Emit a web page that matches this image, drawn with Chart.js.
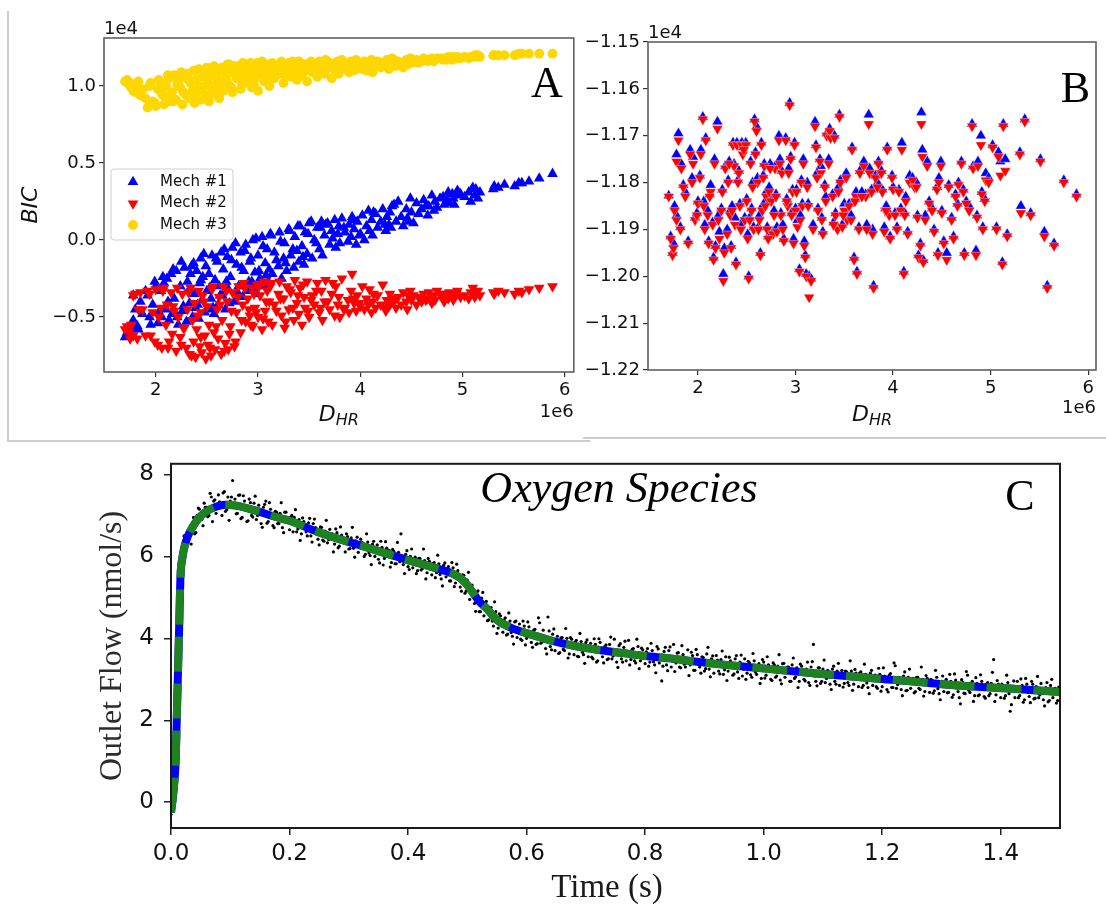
<!DOCTYPE html>
<html>
<head>
<meta charset="utf-8">
<title>BIC comparison and oxygen outlet flow</title>
<script src="https://cdn.jsdelivr.net/npm/chart.js@4.4.0/dist/chart.umd.min.js"></script>
<style>
  body { margin: 0; background: #fff; width: 1106px; height: 904px; position: relative; overflow: hidden; }
  canvas { position: absolute; }
  .edge { position: absolute; background: #cdcdcd; }
</style>
</head>
<body>
<div class="edge" style="left:7px;top:11px;width:1.5px;height:430px"></div>
<div class="edge" style="left:7px;top:440px;width:583px;height:1.5px"></div>
<div class="edge" style="left:583px;top:437px;width:523px;height:1.5px"></div>
<canvas id="chartA" width="580" height="440" style="left:0;top:0"></canvas>
<canvas id="chartB" width="526" height="440" style="left:580px;top:0"></canvas>
<canvas id="chartC" width="1106" height="464" style="left:0;top:440px"></canvas>
<script>
// D_HR of every sample (units of 1e6), shared by panels A and B
const dhr = [
  1.70,1.72,1.74,1.75,1.76,1.78,1.80,1.82,1.85,1.87,
  1.92,1.95,1.97,2.00,2.02,2.05,2.06,2.08,2.10,2.11,
  2.13,2.15,2.16,2.18,2.20,2.22,2.24,2.26,2.28,2.30,
  2.31,2.33,2.34,2.36,2.37,2.38,2.39,2.40,2.42,2.43,
  2.44,2.45,2.46,2.48,2.49,2.50,2.51,2.52,2.54,2.55,
  2.57,2.58,2.60,2.61,2.62,2.64,2.65,2.66,2.68,2.70,
  2.71,2.73,2.75,2.77,2.79,2.81,2.83,2.85,2.86,2.88,
  2.90,2.92,2.94,2.95,2.97,2.99,3.00,3.02,3.04,3.06,
  3.07,3.09,3.10,3.11,3.12,3.14,3.16,3.20,3.21,3.23,
  3.25,3.26,3.28,3.30,3.32,3.35,3.36,3.38,3.40,3.41,
  3.43,3.45,3.46,3.48,3.50,3.53,3.55,3.58,3.60,3.62,
  3.63,3.65,3.66,3.70,3.72,3.75,3.76,3.78,3.79,3.80,
  3.82,3.85,3.88,3.89,3.91,3.92,3.94,3.96,3.97,4.00,
  4.02,4.04,4.06,4.08,4.09,4.11,4.12,4.15,4.17,4.20,
  4.22,4.25,4.26,4.28,4.29,4.30,4.31,4.35,4.37,4.40,
  4.42,4.45,4.46,4.49,4.50,4.52,4.55,4.57,4.60,4.62,
  4.66,4.67,4.70,4.72,4.73,4.75,4.81,4.82,4.85,4.86,
  4.87,4.90,4.91,4.92,4.94,4.95,5.02,5.06,5.08,5.10,
  5.12,5.13,5.15,5.17,5.30,5.31,5.35,5.41,5.51,5.55,
  5.58,5.65,5.75,5.88,
  1.78,1.83,1.90,1.94,1.99,2.03,2.07,2.12,2.17,2.21,
  2.25,2.27,2.32,2.35,2.41,2.44,2.47,2.53,2.56,2.59,
  2.63,2.67,2.69,2.72,2.74,2.78,2.80,2.84,2.87,2.91,
  2.93,2.96,2.98,3.01,3.05,3.08,3.13,3.18,3.22,3.27,
  3.31,3.34,3.39,3.44,3.49,3.52,3.57,3.61,3.68,3.73,
  3.84,3.93,3.99,4.13,4.24,4.33,4.47,4.64,4.78,4.98
];

// panel A: BIC per mechanism (units of 1e4)
const bicMech1 = [
  -0.63,-0.60,-0.61,-0.57,-0.58,-0.52,-0.45,-0.56,-0.40,-0.48,
  -0.36,-0.55,-0.42,-0.30,-0.54,-0.33,-0.50,-0.28,-0.45,-0.25,
  -0.52,-0.22,-0.48,-0.38,-0.20,-0.55,-0.30,-0.46,-0.18,-0.53,
  -0.27,-0.41,-0.22,-0.50,-0.15,-0.35,-0.44,-0.20,-0.51,-0.28,
  -0.12,-0.39,-0.24,-0.47,-0.17,-0.33,-0.45,-0.22,-0.38,-0.10,
  -0.48,-0.26,-0.14,-0.42,-0.30,-0.08,-0.36,-0.19,-0.45,-0.11,
  -0.32,-0.24,-0.05,-0.40,-0.16,-0.30,-0.08,-0.37,-0.20,-0.03,
  -0.33,-0.14,-0.27,0.00,-0.21,-0.35,-0.10,-0.25,0.02,-0.30,
  -0.15,-0.06,-0.27,-0.19,0.04,-0.22,-0.08,-0.17,0.05,-0.25,
  -0.12,-0.02,-0.20,0.07,-0.10,-0.18,0.02,-0.07,-0.14,0.09,
  -0.04,-0.16,0.05,-0.09,0.11,-0.12,0.00,0.08,-0.06,0.12,
  -0.10,0.03,0.10,-0.03,0.06,0.13,-0.05,0.04,0.09,-0.02,
  0.14,0.05,-0.01,0.10,0.02,0.15,0.07,-0.03,0.12,0.04,
  0.16,0.00,0.09,0.19,0.06,0.13,0.03,0.17,0.08,0.12,
  0.20,0.06,0.15,0.10,0.18,0.08,0.22,0.12,0.25,0.15,
  0.09,0.20,0.14,0.27,0.18,0.11,0.24,0.17,0.20,0.26,
  0.16,0.22,0.29,0.19,0.25,0.21,0.28,0.23,0.26,0.31,
  0.24,0.30,0.27,0.23,0.29,0.32,0.28,0.31,0.25,0.34,
  0.29,0.33,0.27,0.31,0.33,0.35,0.34,0.36,0.35,0.37,
  0.37,0.38,0.40,0.43,
  -0.36,-0.58,-0.33,-0.50,-0.27,-0.47,-0.24,-0.40,-0.19,-0.50,
  -0.14,-0.43,-0.33,-0.17,-0.42,-0.26,-0.09,-0.31,-0.44,-0.12,
  -0.36,-0.06,-0.27,-0.41,-0.13,-0.02,-0.34,-0.18,-0.07,-0.27,
  -0.12,-0.31,0.01,-0.20,-0.04,-0.23,0.03,-0.13,-0.01,-0.15,
  0.06,-0.06,0.09,-0.11,0.04,0.12,-0.02,0.08,0.11,0.01,
  0.08,0.13,0.03,0.18,0.10,0.23,0.12,0.22,0.27,0.30
];
const bicMech2 = [
  -0.58,-0.56,-0.60,-0.64,-0.55,-0.62,-0.35,-0.64,-0.34,-0.45,
  -0.33,-0.62,-0.47,-0.32,-0.68,-0.44,-0.70,-0.31,-0.55,-0.42,
  -0.66,-0.34,-0.61,-0.46,-0.72,-0.50,-0.63,-0.35,-0.57,-0.70,
  -0.45,-0.74,-0.31,-0.52,-0.66,-0.41,-0.76,-0.58,-0.33,-0.69,
  -0.47,-0.73,-0.36,-0.62,-0.77,-0.43,-0.68,-0.55,-0.75,-0.32,
  -0.60,-0.71,-0.45,-0.64,-0.37,-0.74,-0.52,-0.30,-0.67,-0.40,
  -0.71,-0.56,-0.34,-0.69,-0.47,-0.30,-0.60,-0.42,-0.28,-0.53,
  -0.38,-0.49,-0.31,-0.56,-0.44,-0.29,-0.50,-0.36,-0.58,-0.27,
  -0.46,-0.33,-0.53,-0.40,-0.30,-0.55,-0.42,-0.35,-0.27,-0.49,
  -0.38,-0.57,-0.30,-0.45,-0.34,-0.52,-0.26,-0.41,-0.48,-0.31,
  -0.55,-0.37,-0.44,-0.27,-0.50,-0.36,-0.42,-0.28,-0.47,-0.33,
  -0.52,-0.40,-0.26,-0.45,-0.35,-0.49,-0.30,-0.42,-0.37,-0.50,
  -0.25,-0.44,-0.39,-0.47,-0.33,-0.22,-0.41,-0.46,-0.36,-0.43,
  -0.30,-0.45,-0.38,-0.42,-0.32,-0.47,-0.40,-0.44,-0.36,-0.42,
  -0.29,-0.46,-0.39,-0.43,-0.35,-0.41,-0.38,-0.44,-0.37,-0.42,
  -0.34,-0.40,-0.45,-0.33,-0.39,-0.36,-0.42,-0.37,-0.40,-0.35,
  -0.38,-0.34,-0.41,-0.36,-0.39,-0.33,-0.37,-0.40,-0.35,-0.38,
  -0.34,-0.36,-0.39,-0.37,-0.35,-0.33,-0.36,-0.38,-0.34,-0.31,
  -0.37,-0.35,-0.33,-0.36,-0.34,-0.35,-0.33,-0.34,-0.35,-0.33,
  -0.34,-0.32,-0.31,-0.30,
  -0.36,-0.45,-0.62,-0.35,-0.66,-0.50,-0.33,-0.70,-0.43,-0.31,
  -0.68,-0.57,-0.34,-0.75,-0.49,-0.63,-0.40,-0.70,-0.30,-0.56,
  -0.42,-0.72,-0.33,-0.61,-0.46,-0.66,-0.37,-0.52,-0.31,-0.45,
  -0.55,-0.35,-0.47,-0.30,-0.51,-0.40,-0.28,-0.46,-0.38,-0.53,
  -0.32,-0.44,-0.36,-0.29,-0.46,-0.39,-0.33,-0.44,-0.40,-0.28,
  -0.45,-0.38,-0.41,-0.35,-0.44,-0.40,-0.36,-0.39,-0.35,-0.37
];
const bicMech3 = [
  1.03,1.04,1.01,1.02,0.99,1.00,0.96,1.01,0.94,0.98,
  0.86,1.02,0.90,0.87,0.98,1.02,0.95,0.88,1.00,0.93,
  1.05,0.90,0.96,1.07,0.91,1.03,0.99,0.88,1.06,0.94,
  1.08,0.92,1.02,0.97,1.10,0.89,1.04,0.95,1.11,1.00,
  0.91,1.06,0.98,1.09,0.93,1.12,1.02,0.90,1.07,0.99,
  1.13,0.95,1.05,1.10,0.92,1.02,1.12,0.97,1.08,1.14,
  1.01,1.09,0.96,1.13,1.05,1.10,0.98,1.15,1.07,1.02,
  1.14,1.09,0.99,1.12,1.05,1.15,0.97,1.10,1.16,1.03,
  1.12,1.07,1.14,1.00,1.10,1.15,1.05,1.13,1.08,1.16,
  1.02,1.12,1.09,1.15,1.06,1.13,1.10,1.04,1.16,1.12,
  1.07,1.14,1.10,1.03,1.15,1.09,1.13,1.06,1.16,1.11,
  1.14,1.08,1.17,1.12,1.05,1.15,1.10,1.16,1.08,1.13,
  1.17,1.11,1.15,1.09,1.16,1.13,1.10,1.17,1.12,1.14,
  1.11,1.16,1.10,1.15,1.12,1.17,1.09,1.14,1.16,1.12,
  1.15,1.13,1.17,1.11,1.16,1.14,1.18,1.13,1.16,1.15,
  1.12,1.17,1.14,1.18,1.15,1.16,1.17,1.15,1.16,1.18,
  1.16,1.17,1.18,1.16,1.17,1.18,1.17,1.18,1.17,1.19,
  1.18,1.17,1.19,1.18,1.18,1.19,1.19,1.18,1.19,1.19,
  1.20,1.19,1.20,1.19,1.20,1.20,1.20,1.20,1.20,1.21,
  1.21,1.21,1.21,1.21,
  0.97,1.03,0.92,1.00,0.89,1.04,0.94,1.07,0.90,1.01,
  1.09,0.96,1.04,0.92,1.10,0.99,1.06,0.94,1.12,1.01,
  0.96,1.10,1.04,1.14,0.99,1.08,1.13,1.02,1.11,1.06,
  1.15,1.01,1.13,1.08,1.15,1.04,1.12,1.09,1.15,1.07,
  1.13,1.16,1.09,1.14,1.11,1.16,1.10,1.13,1.16,1.12,
  1.14,1.16,1.12,1.16,1.15,1.17,1.16,1.17,1.18,1.18
];

// panel B: BIC for mechanisms 1 and 2 (units of 1e4)
const bicB1 = [
  -1.1828,-1.1915,-1.1950,-1.1930,-1.1850,-1.1740,-1.1695,-1.1895,-1.1805,-1.1820,
  -1.1730,-1.1745,-1.1875,-1.1840,-1.1785,-1.1660,-1.1840,-1.1705,-1.1860,-1.1925,
  -1.1805,-1.1885,-1.1960,-1.1935,-1.1670,-1.1905,-1.1855,-1.1995,-1.1765,-1.1900,
  -1.1795,-1.1860,-1.1935,-1.1715,-1.1760,-1.1875,-1.1970,-1.1715,-1.1775,-1.1845,
  -1.1890,-1.1715,-1.1725,-1.1875,-1.1715,-1.1835,-1.1910,-1.2000,-1.1755,-1.1855,
  -1.1895,-1.1665,-1.1680,-1.1790,-1.1895,-1.1950,-1.1715,-1.1850,-1.1760,-1.1820,
  -1.1895,-1.1810,-1.1835,-1.1905,-1.1765,-1.1895,-1.1700,-1.1865,-1.1775,-1.1920,
  -1.1705,-1.1840,-1.1630,-1.1745,-1.1815,-1.1715,-1.1855,-1.1880,-1.1985,-1.1795,
  -1.1845,-1.1925,-1.1955,-1.1995,-1.1800,-1.2000,-1.2005,-1.1670,-1.1720,-1.1855,
  -1.1750,-1.1765,-1.1905,-1.1805,-1.1695,-1.1685,-1.1700,-1.1825,-1.1700,-1.1865,
  -1.1895,-1.1655,-1.1795,-1.1890,-1.1845,-1.1870,-1.1845,-1.1725,-1.1960,-1.1820,
  -1.1990,-1.1895,-1.1775,-1.1755,-1.1825,-1.1655,-1.1770,-1.1815,-1.1900,-1.2020,
  -1.1785,-1.1755,-1.1775,-1.1815,-1.1895,-1.1855,-1.1725,-1.1865,-1.1915,-1.1810,
  -1.1865,-1.1895,-1.1815,-1.1855,-1.1715,-1.1990,-1.1865,-1.1905,-1.1785,-1.1790,
  -1.1805,-1.1870,-1.1955,-1.1930,-1.1650,-1.1730,-1.1965,-1.1755,-1.1840,-1.1855,
  -1.1900,-1.1810,-1.1950,-1.1755,-1.1860,-1.1925,-1.1950,-1.1805,-1.1875,-1.1915,
  -1.1845,-1.1800,-1.1755,-1.1815,-1.1950,-1.1840,-1.1675,-1.1765,-1.1945,-1.1870,
  -1.1755,-1.1700,-1.1820,-1.1895,-1.1835,-1.1780,-1.1720,-1.1895,-1.1735,-1.1755,
  -1.1970,-1.1675,-1.1750,-1.1910,-1.1735,-1.1850,-1.1665,-1.1865,-1.1750,-1.1905,
  -1.2020,-1.1930,-1.1795,-1.1825,
  -1.1870,-1.1760,-1.1925,-1.1790,-1.1865,-1.1730,-1.1890,-1.1825,-1.1750,-1.1870,
  -1.1815,-1.1940,-1.1755,-1.1850,-1.1795,-1.1890,-1.1720,-1.1875,-1.1800,-1.1735,
  -1.1870,-1.1785,-1.1840,-1.1915,-1.1760,-1.1860,-1.1825,-1.1750,-1.1890,-1.1835,
  -1.1770,-1.1865,-1.1920,-1.1815,-1.1870,-1.1750,-1.1845,-1.1890,-1.1780,-1.1875,
  -1.1830,-1.1750,-1.1885,-1.1810,-1.1865,-1.1780,-1.1870,-1.1835,-1.1820,-1.1890,
  -1.1800,-1.1850,-1.1785,-1.1830,-1.1800,-1.1870,-1.1790,-1.1825,-1.1850,-1.1790
];
const bicB2 = [
  -1.1830,-1.1920,-1.1955,-1.1940,-1.1860,-1.1755,-1.1710,-1.1900,-1.1810,-1.1830,
  -1.1740,-1.1760,-1.1880,-1.1845,-1.1790,-1.1665,-1.1850,-1.1710,-1.1870,-1.1930,
  -1.1820,-1.1890,-1.1965,-1.1940,-1.1685,-1.1920,-1.1860,-1.2010,-1.1770,-1.1910,
  -1.1800,-1.1870,-1.1940,-1.1720,-1.1765,-1.1890,-1.1975,-1.1720,-1.1780,-1.1850,
  -1.1900,-1.1720,-1.1740,-1.1880,-1.1720,-1.1840,-1.1920,-1.2005,-1.1760,-1.1860,
  -1.1900,-1.1670,-1.1690,-1.1800,-1.1900,-1.1955,-1.1720,-1.1860,-1.1765,-1.1830,
  -1.1900,-1.1820,-1.1840,-1.1910,-1.1770,-1.1905,-1.1710,-1.1870,-1.1780,-1.1925,
  -1.1710,-1.1850,-1.1635,-1.1750,-1.1820,-1.1720,-1.1860,-1.1895,-1.1990,-1.1800,
  -1.1850,-1.1935,-1.1960,-1.2000,-1.1810,-1.2045,-1.2010,-1.1680,-1.1725,-1.1860,
  -1.1755,-1.1780,-1.1910,-1.1810,-1.1700,-1.1690,-1.1705,-1.1830,-1.1705,-1.1870,
  -1.1900,-1.1660,-1.1800,-1.1895,-1.1860,-1.1880,-1.1850,-1.1730,-1.1965,-1.1830,
  -1.1995,-1.1900,-1.1780,-1.1765,-1.1830,-1.1675,-1.1780,-1.1820,-1.1910,-1.2025,
  -1.1790,-1.1760,-1.1780,-1.1820,-1.1905,-1.1860,-1.1730,-1.1870,-1.1920,-1.1815,
  -1.1870,-1.1900,-1.1820,-1.1860,-1.1730,-1.1995,-1.1870,-1.1910,-1.1800,-1.1795,
  -1.1810,-1.1875,-1.1960,-1.1935,-1.1675,-1.1745,-1.1970,-1.1765,-1.1845,-1.1860,
  -1.1905,-1.1815,-1.1955,-1.1765,-1.1865,-1.1930,-1.1965,-1.1810,-1.1880,-1.1920,
  -1.1850,-1.1805,-1.1760,-1.1820,-1.1955,-1.1845,-1.1680,-1.1770,-1.1955,-1.1875,
  -1.1765,-1.1720,-1.1825,-1.1900,-1.1840,-1.1795,-1.1725,-1.1900,-1.1745,-1.1785,
  -1.1975,-1.1680,-1.1775,-1.1915,-1.1740,-1.1865,-1.1670,-1.1870,-1.1755,-1.1915,
  -1.2025,-1.1935,-1.1800,-1.1830,
  -1.1880,-1.1770,-1.1930,-1.1800,-1.1870,-1.1740,-1.1900,-1.1830,-1.1760,-1.1880,
  -1.1820,-1.1950,-1.1760,-1.1860,-1.1800,-1.1900,-1.1730,-1.1880,-1.1810,-1.1740,
  -1.1880,-1.1790,-1.1850,-1.1920,-1.1770,-1.1870,-1.1830,-1.1760,-1.1900,-1.1840,
  -1.1780,-1.1870,-1.1930,-1.1820,-1.1880,-1.1760,-1.1850,-1.1900,-1.1790,-1.1880,
  -1.1840,-1.1760,-1.1890,-1.1820,-1.1870,-1.1790,-1.1880,-1.1840,-1.1830,-1.1900,
  -1.1810,-1.1860,-1.1790,-1.1840,-1.1810,-1.1880,-1.1800,-1.1830,-1.1860,-1.1800
];

const xTicksAB = [2, 3, 4, 5, 6];
const yTicksA = [-0.5, 0.0, 0.5, 1.0];
const yTicksB = [-1.22, -1.21, -1.20, -1.19, -1.18, -1.17, -1.16, -1.15];

// panel C: measured oxygen outlet flow (time in ms, flow in nmol/s)
const o2TimeMs = [
  0,4,8,12,16,20,24,28,32,36, 40,44,48,52,56,60,64,68,72,76,
  80,84,88,92,96,100,104,108,112,116, 120,124,128,132,136,140,144,148,152,156,
  160,164,168,172,176,180,184,188,192,196, 200,204,208,212,216,220,224,228,232,236,
  240,244,248,252,256,260,264,268,272,276, 280,284,288,292,296,300,304,308,312,316,
  320,324,328,332,336,340,344,348,352,356, 360,364,368,372,376,380,384,388,392,396,
  400,404,408,412,416,420,424,428,432,436, 440,444,448,452,456,460,464,468,472,476,
  480,484,488,492,496,500,504,508,512,516, 520,524,528,532,536,540,544,548,552,556,
  560,564,568,572,576,580,584,588,592,596, 600,604,608,612,616,620,624,628,632,636,
  640,644,648,652,656,660,664,668,672,676, 680,684,688,692,696,700,704,708,712,716,
  720,724,728,732,736,740,744,748,752,756, 760,764,768,772,776,780,784,788,792,796,
  800,804,808,812,816,820,824,828,832,836, 840,844,848,852,856,860,864,868,872,876,
  880,884,888,892,896,900,904,908,912,916, 920,924,928,932,936,940,944,948,952,956,
  960,964,968,972,976,980,984,988,992,996, 1000,1004,1008,1012,1016,1020,1024,1028,1032,1036,
  1040,1044,1048,1052,1056,1060,1064,1068,1072,1076, 1080,1084,1088,1092,1096,1100,1104,1108,1112,1116,
  1120,1124,1128,1132,1136,1140,1144,1148,1152,1156, 1160,1164,1168,1172,1176,1180,1184,1188,1192,1196,
  1200,1204,1208,1212,1216,1220,1224,1228,1232,1236, 1240,1244,1248,1252,1256,1260,1264,1268,1272,1276,
  1280,1284,1288,1292,1296,1300,1304,1308,1312,1316, 1320,1324,1328,1332,1336,1340,1344,1348,1352,1356,
  1360,1364,1368,1372,1376,1380,1384,1388,1392,1396, 1400,1404,1408,1412,1416,1420,1424,1428,1432,1436,
  1440,1444,1448,1452,1456,1460,1464,1468,1472,1476, 1480,1484,1488,1492,1496,1500,
  2,6,10,14,18,22,26,30,34,38, 42,46,50,54,58,62,66,70,74,78,
  82,86,90,94,98,102,106,110,114,118, 122,126,130,134,138,142,146,150,154,158,
  162,166,170,174,178,182,186,190,194,198, 202,206,210,214,218,222,226,230,234,238,
  242,246,250,254,258,262,266,270,274,278, 282,286,290,294,298,302,306,310,314,318,
  322,326,330,334,338,342,346,350,354,358, 362,366,370,374,378,382,386,390,394,398,
  402,406,410,414,418,422,426,430,434,438, 442,446,450,454,458,462,466,470,474,478,
  482,486,490,494,498,502,506,510,514,518, 522,526,530,534,538,542,546,550,554,558,
  562,566,570,574,578,582,586,590,594,598, 602,606,610,614,618,622,626,630,634,638,
  642,646,650,654,658,662,666,670,674,678, 682,686,690,694,698,702,706,710,714,718,
  722,726,730,734,738,742,746,750,754,758, 762,766,770,774,778,782,786,790,794,798,
  802,806,810,814,818,822,826,830,834,838, 842,846,850,854,858,862,866,870,874,878,
  882,886,890,894,898,902,906,910,914,918, 922,926,930,934,938,942,946,950,954,958,
  962,966,970,974,978,982,986,990,994,998, 1002,1006,1010,1014,1018,1022,1026,1030,1034,1038,
  1042,1046,1050,1054,1058,1062,1066,1070,1074,1078, 1082,1086,1090,1094,1098,1102,1106,1110,1114,1118,
  1122,1126,1130,1134,1138,1142,1146,1150,1154,1158, 1162,1166,1170,1174,1178,1182,1186,1190,1194,1198,
  1202,1206,1210,1214,1218,1222,1226,1230,1234,1238, 1242,1246,1250,1254,1258,1262,1266,1270,1274,1278,
  1282,1286,1290,1294,1298,1302,1306,1310,1314,1318, 1322,1326,1330,1334,1338,1342,1346,1350,1354,1358,
  1362,1366,1370,1374,1378,1382,1386,1390,1394,1398, 1402,1406,1410,1414,1418,1422,1426,1430,1434,1438,
  1442,1446,1450,1454,1458,1462,1466,1470,1474,1478, 1482,1486,1490,1494,1498
];
const o2Flow = [
  -0.3,0.1,1.2,3.1,5.5,6.15,6.05,6.5,6.6,6.75, 6.55,7.0,7.15,6.9,7.3,7.2,7.0,7.45,7.35,7.05,
  7.5,7.3,7.55,7.1,7.45,7.35,7.85,7.4,7.05,7.5, 6.95,7.35,6.85,7.4,7.0,7.3,6.9,7.25,6.8,7.2,
  7.35,6.85,7.15,6.75,7.1,6.8,7.05,6.7,7.08,6.95, 6.65,7.0,6.95,6.6,6.9,6.55,6.85,6.6,6.82,6.5,
  6.8,6.7,6.42,6.72,6.4,6.62,6.33,6.66,6.55,6.3, 6.58,6.25,6.52,6.4,6.55,6.18,6.45,6.2,6.38,6.1,
  6.42,6.3,6.05,6.35,6.02,6.3,6.0,6.28,5.84,6.22, 5.95,6.2,6.15,5.85,6.12,5.82,6.1,6.55,5.8,6.05,
  5.75,6.0,5.72,5.98,5.65,5.95,5.7,5.9,5.6,5.88, 5.55,5.85,5.6,5.82,5.45,5.78,5.5,5.75,5.4,5.72,
  5.35,5.65,5.25,5.55,5.1,5.42,4.95,5.3,4.85,5.12, 4.65,4.98,4.55,4.9,4.45,4.75,4.3,4.65,4.25,4.55,
  4.15,4.5,4.1,4.42,4.05,4.4,4.02,4.35,3.95,4.3, 4.0,4.28,3.9,4.2,3.85,4.5,3.88,4.2,3.75,4.52,
  3.8,4.1,3.7,4.05,3.65,4.02,3.7,4.0,3.62,3.98, 3.6,3.95,3.55,3.92,3.6,3.9,3.55,3.88,3.5,3.85,
  3.45,3.9,3.55,3.8,3.48,3.85,3.5,3.98,3.42,3.82, 3.5,3.78,3.45,3.95,3.48,3.75,3.4,3.8,3.45,3.72,
  3.38,3.75,3.42,3.7,3.35,3.8,3.4,2.96,3.68,3.35, 3.7,3.3,3.85,3.4,3.65,3.28,3.6,3.3,3.72,3.35,
  3.58,3.22,3.6,3.3,3.55,3.2,3.62,3.25,3.5,3.15, 3.58,3.2,3.48,3.12,3.55,3.2,3.45,3.1,3.5,3.18,
  3.42,3.08,3.5,3.15,3.4,3.05,3.45,3.12,3.38,3.02, 3.42,3.1,3.35,3.0,3.4,3.05,3.32,2.98,3.38,3.05,
  3.3,2.95,3.35,3.02,3.28,2.95,3.32,3.0,3.25,2.92, 3.3,3.85,2.95,3.28,2.9,3.25,2.92,3.22,2.88,3.25,
  2.95,3.2,2.85,3.22,2.9,3.18,2.85,3.2,2.88,3.15, 2.82,3.18,2.85,3.12,2.8,3.15,2.85,3.1,2.78,3.12,
  2.82,3.08,2.75,3.1,2.8,3.4,2.78,3.05,2.75,3.08, 2.72,3.05,2.78,3.02,2.7,3.05,2.75,3.0,2.7,3.02,
  2.68,2.98,2.72,3.05,2.65,2.95,2.7,3.0,2.68,2.95, 2.62,2.98,2.7,2.4,2.92,2.65,3.1,2.68,2.95,2.6,
  2.9,2.62,2.95,2.58,2.88,2.6,2.9,3.48,2.62,2.88, 2.55,2.85,2.6,2.92,2.22,2.82,2.55,2.95,2.6,2.85,
  2.5,2.88,2.58,2.95,2.52,2.82,2.55,2.9,2.5,2.8, 2.45,2.85,2.55,2.78,2.48,2.75,
  -0.15,0.5,2.0,4.6,5.7,6.5,6.25,6.6,6.3,6.95, 6.58,7.18,6.98,6.75,7.2,6.97,7.54,6.85,7.38,7.18,
  7.33,7.0,7.58,7.14,6.88,7.45,7.29,7.04,7.49,6.92, 7.48,7.13,6.87,7.31,6.96,7.47,7.0,7.13,6.71,7.27,
  6.81,7.31,7.01,6.7,7.08,6.8,7.31,6.58,7.08,6.84, 6.96,6.6,7.14,6.67,6.39,6.94,6.76,6.5,6.93,6.35,
  6.91,6.54,6.28,6.71,6.37,6.88,6.41,6.54,6.11,6.67, 6.21,6.72,6.42,6.11,6.48,6.19,6.71,5.98,6.47,6.23,
  6.35,6.0,6.55,6.08,5.8,6.37,6.19,5.93,6.37,5.79, 6.36,6.0,5.74,6.17,5.82,6.34,5.87,6.0,5.58,6.14,
  5.68,6.18,5.89,5.58,5.95,5.67,6.18,5.45,5.95,5.71, 5.83,5.48,6.03,5.56,5.28,5.84,5.66,5.4,5.85,5.26,
  5.81,5.43,5.15,5.54,5.15,5.61,5.08,5.15,4.66,5.16, 4.65,5.12,4.78,4.43,4.75,4.42,4.89,4.12,4.6,4.34,
  4.45,4.08,4.62,4.14,3.86,4.42,4.24,3.98,4.42,3.84, 4.4,4.04,3.78,4.22,3.87,4.38,3.91,4.04,3.62,4.18,
  3.72,4.23,3.94,3.63,4.01,3.73,4.24,3.52,4.02,3.78, 3.91,3.56,4.12,3.66,3.39,3.96,3.79,3.54,3.99,3.42,
  3.99,3.65,3.4,3.84,3.5,4.03,3.57,3.71,3.29,3.87, 3.42,3.93,3.64,3.35,3.73,3.45,3.98,3.26,3.76,3.53,
  3.67,3.32,3.88,3.43,3.16,3.74,3.57,3.32,3.78,3.21, 3.79,3.44,3.19,3.64,3.3,3.82,3.37,3.51,3.09,3.66,
  3.22,3.73,3.44,3.15,3.53,3.26,3.78,3.06,3.57,3.34, 3.47,3.13,3.69,3.23,2.97,3.54,3.38,3.13,3.58,3.02,
  3.59,3.25,3.0,3.44,3.11,3.63,3.18,3.32,2.9,3.48, 3.03,3.55,3.26,2.97,3.35,3.08,3.6,2.89,3.39,3.16,
  3.3,2.95,3.52,3.06,2.8,3.37,3.21,2.96,3.42,2.85, 3.43,3.08,2.84,3.28,2.95,3.47,3.02,3.16,2.75,3.32,
  2.88,3.39,3.11,2.81,3.2,2.92,3.45,2.73,3.24,3.01, 3.15,2.8,3.37,2.91,2.65,3.22,3.06,2.82,3.27,2.71,
  3.28,2.94,2.69,3.14,2.8,3.33,2.87,3.02,2.6,3.18, 2.73,3.25,2.96,2.67,3.05,2.78,3.3,2.59,3.09,2.87,
  3.0,2.66,3.22,2.77,2.5,3.08,2.91,2.67,3.12,2.56, 3.13,2.79,2.55,2.99,2.66,3.19,2.73,2.88,2.46,3.04,
  2.6,3.11,2.83,2.54,2.92,2.65,3.17,2.46,2.97,2.74, 2.88,2.54,3.1,2.65,2.38,2.96,2.8,2.55,3.01,2.44,
  3.02,2.68,2.43,2.88,2.54,3.07,2.62,2.76,2.35,2.92, 2.48,3.0,2.71,2.42,2.81
];

// fitted curve through the oxygen data
const fitTime = [0, 0.003, 0.006, 0.008, 0.010, 0.012, 0.014, 0.016, 0.019, 0.023, 0.028, 0.035, 0.045, 0.058,
  0.072, 0.092, 0.110, 0.140, 0.173, 0.200, 0.249, 0.300, 0.328, 0.350, 0.407, 0.450, 0.475, 0.490, 0.500,
  0.510, 0.520, 0.533, 0.550, 0.575, 0.604, 0.640, 0.682, 0.720, 0.762, 0.800, 0.842, 0.880, 0.923, 1.003,
  1.084, 1.164, 1.248, 1.327, 1.408, 1.500];
const fitFlow = [-0.25, 0.1, 0.55, 1.05, 2.2, 3.3, 4.4, 5.5, 5.95, 6.25, 6.48, 6.68, 6.9, 7.08,
  7.19, 7.26, 7.24, 7.13, 6.98, 6.87, 6.59, 6.35, 6.23, 6.13, 5.88, 5.7, 5.58, 5.45, 5.3,
  5.1, 4.9, 4.72, 4.45, 4.25, 4.11, 3.95, 3.81, 3.72, 3.64, 3.57, 3.51, 3.44, 3.37, 3.26,
  3.15, 3.05, 2.95, 2.85, 2.78, 2.69];

const xTicksC = [0, 0.2, 0.4, 0.6, 0.8, 1.0, 1.2, 1.4];
const yTicksC = [0, 2, 4, 6, 8];

const pts = (xs, ys) => xs.map((x, i) => ({ x, y: ys[i] }));
const minus = s => s.replace('-', '\u2212');
const SANS = '"DejaVu Sans", sans-serif';
const SERIF = '"Liberation Serif", "DejaVu Serif", serif';

// axis with fixed tick list and fixed thickness so the plot box lands where we want
function axis(o) {
  return {
    type: 'linear', min: o.min, max: o.max,
    afterBuildTicks: s => { s.ticks = o.ticks.map(v => ({ value: v })); },
    afterFit: s => { if (s.isHorizontal()) s.height = o.size; else s.width = o.size; },
    grid: { display: true, drawOnChartArea: false, drawTicks: true, tickLength: o.tickLength || 5,
            color: o.tickColor || '#333', lineWidth: o.tickWidth || 1.2 },
    border: { display: false },
    ticks: { callback: o.format, color: '#111', padding: o.padding || 3, maxRotation: 0, autoSkip: false,
             font: { family: SANS, size: o.fontSize || 18 } }
  };
}

function baseOptions(padding, x, y) {
  return {
    responsive: false, animation: false, events: [],
    layout: { padding },
    plugins: { legend: { display: false }, tooltip: { enabled: false } },
    scales: { x, y }
  };
}

function overlay(id, draw) {
  return { id, afterDraw(chart) { const ctx = chart.ctx; ctx.save(); draw(ctx, chart.chartArea, chart); ctx.restore(); } };
}

function frame(ctx, a, color, width) {
  ctx.strokeStyle = color; ctx.lineWidth = width;
  ctx.strokeRect(a.left, a.top, a.right - a.left, a.bottom - a.top);
}

function text(ctx, str, x, y, font, align, baseline, color) {
  ctx.font = font; ctx.textAlign = align || 'left'; ctx.textBaseline = baseline || 'alphabetic';
  ctx.fillStyle = color || '#111';
  ctx.fillText(str, x, y);
}

function vtext(ctx, str, x, y, font, color) {
  ctx.save(); ctx.translate(x, y); ctx.rotate(-Math.PI / 2);
  text(ctx, str, 0, 0, font, 'center', 'middle', color);
  ctx.restore();
}

// D with HR subscript
function dhrTitle(ctx, cx, base) {
  const big = 'italic 22px ' + SANS, small = 'italic 16px ' + SANS;
  ctx.font = big; const wD = ctx.measureText('D').width;
  ctx.font = small; const wS = ctx.measureText('HR').width;
  const x0 = cx - (wD + wS) / 2;
  text(ctx, 'D', x0, base, big);
  text(ctx, 'HR', x0 + wD, base + 4, small);
}

function marker(ctx, kind, x, y, r, color) {
  ctx.fillStyle = color; ctx.beginPath();
  if (kind === 'circle') {
    ctx.arc(x, y, r, 0, Math.PI * 2);
  } else {
    const s = kind === 'up' ? -1 : 1;
    ctx.moveTo(x, y + s * r);
    ctx.lineTo(x + r * 0.866, y - s * r / 2);
    ctx.lineTo(x - r * 0.866, y - s * r / 2);
    ctx.closePath();
  }
  ctx.fill();
}

const BLUE = '#0000ff', RED = '#ff0000', GOLD = '#ffd700';
const TRI = 6.2, DOT = 4.9;
const fmtAB = v => String(v);

// ---- panel A ----
const extrasA = overlay('extrasA', (ctx, a) => {
  frame(ctx, a, '#606060', 1.6);
  text(ctx, '1e4', a.left, a.top - 4, '18px ' + SANS);
  text(ctx, '1e6', a.right, 412, '18px ' + SANS, 'right', 'middle');
  dhrTitle(ctx, (a.left + a.right) / 2, 421);
  vtext(ctx, 'BIC', 31, (a.top + a.bottom) / 2, 'italic 22px ' + SANS);
  text(ctx, 'A', a.right - 11, 97, '44px ' + SERIF, 'right', 'alphabetic', '#000');

  // legend box
  const lx = 111, ly = 169, lw = 122, lh = 71;
  ctx.fillStyle = 'rgba(255,255,255,0.8)'; ctx.strokeStyle = '#d0d0d0'; ctx.lineWidth = 1;
  ctx.beginPath(); ctx.roundRect(lx, ly, lw, lh, 3); ctx.fill(); ctx.stroke();
  const entries = [['Mech #1', 'up', BLUE, TRI], ['Mech #2', 'down', RED, TRI], ['Mech #3', 'circle', GOLD, DOT]];
  entries.forEach((e, i) => {
    const y = 182 + i * 21.5;
    marker(ctx, e[1], 133, y, e[3], e[2]);
    text(ctx, e[0], 160, y, '15px ' + SANS, 'left', 'middle');
  });
});

new Chart(document.getElementById('chartA'), {
  type: 'scatter',
  data: {
    datasets: [
      { label: 'Mech #1', data: pts(dhr, bicMech1), pointStyle: 'triangle', pointRadius: TRI,
        backgroundColor: BLUE, borderColor: BLUE, pointBorderWidth: 0, order: 2 },
      { label: 'Mech #2', data: pts(dhr, bicMech2), pointStyle: 'triangle', pointRotation: 180, pointRadius: TRI,
        backgroundColor: RED, borderColor: RED, pointBorderWidth: 0, order: 1 },
      { label: 'Mech #3', data: pts(dhr, bicMech3), pointStyle: 'circle', pointRadius: DOT,
        backgroundColor: GOLD, borderColor: GOLD, pointBorderWidth: 0, order: 3 }
    ]
  },
  options: baseOptions({ top: 38, right: 4, left: 0, bottom: 0 },
    axis({ min: 1.494, max: 6.088, ticks: xTicksAB, size: 68, format: fmtAB }),
    axis({ min: -0.857, max: 1.312, ticks: yTicksA, size: 104, format: v => minus(v.toFixed(1)) })),
  plugins: [extrasA]
});

// ---- panel B ----
const extrasB = overlay('extrasB', (ctx, a) => {
  frame(ctx, a, '#606060', 1.6);
  text(ctx, '1e4', a.left, a.top - 4, '18px ' + SANS);
  text(ctx, '1e6', a.right, 408, '18px ' + SANS, 'right', 'middle');
  dhrTitle(ctx, (a.left + a.right) / 2, 421);
  text(ctx, 'B', a.right - 6, 102, '44px ' + SERIF, 'right', 'alphabetic', '#000');
});

new Chart(document.getElementById('chartB'), {
  type: 'scatter',
  data: {
    datasets: [
      { label: 'Mech #1', data: pts(dhr, bicB1), pointStyle: 'triangle', pointRadius: TRI,
        backgroundColor: BLUE, pointBorderColor: 'rgba(255,255,255,0.55)', pointBorderWidth: 0.7, order: 2 },
      { label: 'Mech #2', data: pts(dhr, bicB2), pointStyle: 'triangle', pointRotation: 180, pointRadius: TRI,
        backgroundColor: RED, pointBorderColor: 'rgba(255,255,255,0.55)', pointBorderWidth: 0.7, order: 1 }
    ]
  },
  options: baseOptions({ top: 42, right: 10, left: 0, bottom: 0 },
    axis({ min: 1.488, max: 6.08, ticks: xTicksAB, size: 70, format: fmtAB }),
    axis({ min: -1.22, max: -1.15, ticks: yTicksB, size: 68, format: v => minus(v.toFixed(2)) })),
  plugins: [extrasB]
});

// ---- panel C ----
const extrasC = overlay('extrasC', (ctx, a) => {
  frame(ctx, a, '#1a1a1a', 2);
  vtext(ctx, 'Outlet Flow (nmol/s)', 113, (a.top + a.bottom) / 2, '32px ' + SERIF, '#2b2b2b');
  text(ctx, 'Time (s)', 607, 457, '33px ' + SERIF, 'center', 'alphabetic', '#1a1a1a');
  text(ctx, 'Oxygen Species', 619, 62, 'italic 44px ' + SERIF, 'center', 'alphabetic', '#000');
  text(ctx, 'C', 1020, 70, '44px ' + SERIF, 'center', 'alphabetic', '#000');
});

new Chart(document.getElementById('chartC'), {
  type: 'scatter',
  data: {
    datasets: [
      { label: 'fit', data: pts(fitTime, fitFlow), showLine: true, borderColor: '#1e821e', borderWidth: 8,
        borderDash: [35, 12], pointRadius: 0, cubicInterpolationMode: 'monotone', order: 0 },
      { label: 'model', data: pts(fitTime, fitFlow), showLine: true, borderColor: BLUE, borderWidth: 8,
        pointRadius: 0, cubicInterpolationMode: 'monotone', order: 1 },
      { label: 'measured', data: pts(o2TimeMs.map(t => t / 1000), o2Flow), pointRadius: 1.6,
        backgroundColor: '#000', borderColor: '#000', pointBorderWidth: 0, order: 2 }
    ]
  },
  options: baseOptions({ top: 11, right: 46, left: 0, bottom: 0 },
    axis({ min: 0, max: 1.5, ticks: xTicksC, size: 76, format: v => v.toFixed(1), fontSize: 23,
           tickLength: 7, padding: 5, tickColor: '#222', tickWidth: 1.5 }),
    axis({ min: -0.63, max: 8.26, ticks: yTicksC, size: 171, format: v => String(v), fontSize: 23,
           tickLength: 7, padding: 10, tickColor: '#222', tickWidth: 1.5 })),
  plugins: [extrasC]
});
</script>
</body>
</html>
